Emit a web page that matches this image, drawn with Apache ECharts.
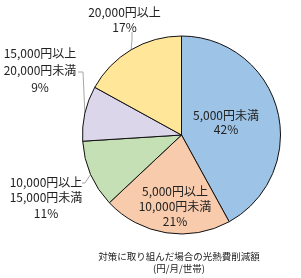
<!DOCTYPE html>
<html>
<head>
<meta charset="utf-8">
<script src="https://cdn.jsdelivr.net/npm/echarts@6/dist/echarts.min.js"></script>
<style>
html,body{margin:0;padding:0;background:#fff;}
#chart{width:301px;height:278px;}
</style>
</head>
<body>
<div id="chart"></div>
<script>
var categories = ['5,000円未満', '5,000円以上\n10,000円未満', '10,000円以上\n15,000円未満', '15,000円以上\n20,000円未満', '20,000円以上'];
var values = [42, 21, 11, 9, 17];
var colors = ['#9dc3e6', '#f8cbad', '#c5e0b4', '#dcd6ea', '#ffe699'];
var captionText = '対策に取り組んだ場合の光熱費削減額\n(円/月/世帯)';

var FONT = '"Noto Sans CJK JP", "Noto Sans", sans-serif';
var chart = echarts.init(document.getElementById('chart'), null, {renderer: 'canvas'});

var labelCenters = [[226, 122], [175, 206.5], [46, 197.5], [40, 70], [124.5, 19.5]];
var lineHeights = [14, 15, 15.5, 17, 15];

var data = categories.map(function (c, i) {
  return {
    name: c,
    value: values[i],
    itemStyle: {color: colors[i]},
    label: {position: i < 2 ? 'inside' : 'outside', lineHeight: lineHeights[i]}
  };
});

chart.setOption({
  animation: false,
  graphic: [{
    type: 'text',
    x: 179,
    y: 250,
    style: {
      text: captionText,
      align: 'center',
      verticalAlign: 'top',
      font: '9.5px ' + FONT,
      fill: '#222',
      lineHeight: 12
    }
  }],
  series: [{
    type: 'pie',
    center: [181.5, 135],
    radius: 99,
    startAngle: 90,
    clockwise: true,
    data: data,
    itemStyle: {borderColor: '#111', borderWidth: 1},
    label: {
      show: true,
      formatter: function (p) { return p.name + '\n' + p.value + '%'; },
      fontFamily: FONT,
      fontSize: 12,
      color: '#222',
      align: 'center',
      overflow: 'none',
      alignTo: 'none',
      bleedMargin: 0
    },
    labelLine: {show: true, length: 5, length2: 5, lineStyle: {color: '#a6a6a6', width: 1}},
    labelLayout: function (params) {
      var i = params.dataIndex;
      var c = labelCenters[i];
      var res = {x: c[0], y: c[1], align: 'center', verticalAlign: 'middle'};
      var p0 = params.labelLinePoints ? params.labelLinePoints[0] : null;
      if (p0) {
        if (i === 4) {
          res.labelLinePoints = [p0, [132, 40], [132, 32]];
        } else if (i === 3) {
          res.labelLinePoints = [p0, [83, 72], [78, 72]];
        } else if (i === 2) {
          res.labelLinePoints = [p0, [85, 183], [82, 183]];
        }
      }
      return res;
    }
  }]
});
</script>
</body>
</html>
